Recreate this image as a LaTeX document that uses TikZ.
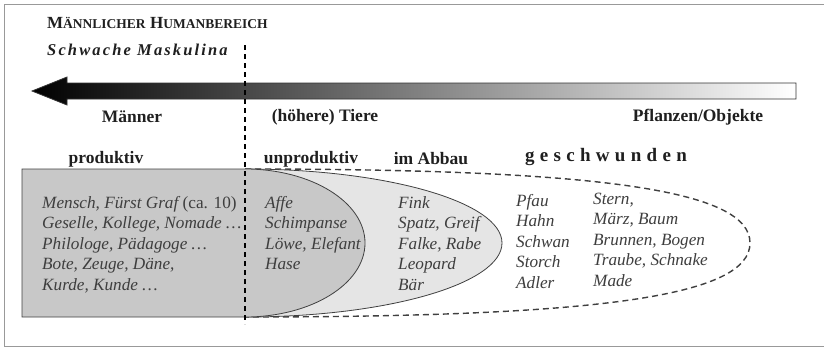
\documentclass[tikz,border=0pt]{standalone}
\usepackage{fontspec}
\setmainfont{Liberation Serif}
\usepackage{tikz}
\usetikzlibrary{positioning}
\definecolor{darkfill}{RGB}{200,200,200}
\definecolor{lightfill}{RGB}{229,229,229}
\definecolor{listgray}{RGB}{62,62,62}
\tikzset{
    head/.style={
           font=\bfseries\fontsize{17.5}{20}\selectfont,
           text=black!88,
           inner sep=0pt,
           },
    wordlist/.style={
           anchor=west,
           inner sep=0pt,
           text=listgray,
           font=\itshape\fontsize{17.2}{20.5}\selectfont,
           },
    zone/.style={
           draw=black!75, thick,
           },
}

\begin{document}
\begin{tikzpicture}[x=1pt,y=-1pt]
 \useasboundingbox (0,0) rectangle (824,348);

 % frame round the picture
 \draw[black!40, thick] (824,4) -- (4,4) -- (4,346) -- (824,346);

 % zones: geschwunden (dashed), im Abbau, unproduktiv + produktiv
 \draw[zone, fill=white, line width=1.4pt, dash pattern=on 6pt off 4pt]
   (245,169) .. controls (600,169) and (750,190) .. (750,243)
             .. controls (750,296) and (600,317) .. (245,317);
 \draw[zone, fill=lightfill]
   (245,169) arc[start angle=-90, end angle=90, x radius=257, y radius=74];
 \draw[zone, fill=darkfill]
   (245,317) -- (22,317) -- (22,169) -- (245,169)
   arc[start angle=-90, end angle=90, x radius=120, y radius=74] -- cycle;

 % big arrow, dark on the left
 \shade[left color=black, right color=white, draw=black!80, thick]
   (32,91) -- (67,77) -- (67,83) -- (796,83) -- (796,99) -- (67,99) -- (67,105) -- cycle;

 % border between humans and animals
 \draw[line width=1.5pt, dash pattern=on 5pt off 4pt] (245,45) -- (245,324);

 % First node: title in small caps
 \node[head, anchor=west] (TITLE) at (47,23)
 {{\fontsize{17}{20}\selectfont M}{\fontsize{13.5}{16}\selectfont ÄNNLICHER}
  {\fontsize{17}{20}\selectfont H}{\fontsize{13.5}{16}\selectfont UMANBEREICH}};

 \node[head, anchor=west, font=\bfseries\itshape\fontsize{16.5}{19}\selectfont] (SUBTITLE)
 at (47,50) {\addfontfeature{LetterSpace=13}Schwache Maskulina};

 % labels under the arrow
 \node[head] (MEN) at (132,117) {Männer};
 \node[head,
 right of=MEN,          % distance to MEN
 node distance=193pt] (ANIMALS) {(höhere) Tiere};
 \node[head] (PLANTS) at (698,117) {Pflanzen/Objekte};

 % labels over the zones
 \node[head] (PROD) at (106,159) {produktiv};
 \node[head, right of=PROD, node distance=205pt] (UNPROD) {unproduktiv};
 \node[head, right of=UNPROD, node distance=120pt] (DECAY) {im Abbau};
 \node[head, font=\bfseries\fontsize{19}{22}\selectfont] (GONE) at (606,157)
 {\addfontfeature{LetterSpace=28}geschwunden};

 % word lists
 \node[wordlist] (LISTMEN) at (42,245)
 {\begin{tabular}{@{}l@{}}
  Mensch, Fürst Graf {\upshape(ca. 10)}\\
  Geselle, Kollege, Nomade \ldots\\
  Philologe, Pädagoge \ldots\\
  Bote, Zeuge, Däne,\\
  Kurde, Kunde \ldots
 \end{tabular}};

 \node[wordlist] (LISTAPE) at (265,235)
 {\begin{tabular}{@{}l@{}}
  Affe\\ Schimpanse\\ Löwe, Elefant\\ Hase
 \end{tabular}};

 \node[wordlist] (LISTFINK) at (398,245)
 {\begin{tabular}{@{}l@{}}
  Fink\\ Spatz, Greif\\ Falke, Rabe\\ Leopard\\ Bär
 \end{tabular}};

 \node[wordlist] (LISTPFAU) at (516,243)
 {\begin{tabular}{@{}l@{}}
  Pfau\\ Hahn\\ Schwan\\ Storch\\ Adler
 \end{tabular}};

 \node[wordlist] (LISTSTERN) at (593,241)
 {\begin{tabular}{@{}l@{}}
  Stern,\\ März, Baum\\ Brunnen, Bogen\\ Traube, Schnake\\ Made
 \end{tabular}};
\end{tikzpicture}
\end{document}
